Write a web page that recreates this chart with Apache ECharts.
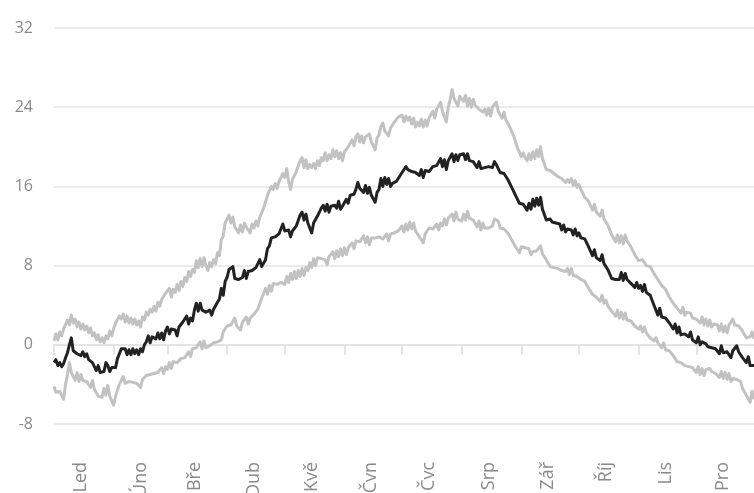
<!DOCTYPE html>
<html>
<head>
<meta charset="utf-8">
<script src="https://cdn.jsdelivr.net/npm/echarts@6/dist/echarts.min.js"></script>
<style>
  html, body { margin: 0; padding: 0; background: #ffffff; }
  #chart { width: 754px; height: 493px; }
</style>
</head>
<body>
<div id="chart"></div>
<script>
// Month names (Czech abbreviations) and their lengths
const monthNames = ['Led', 'Úno', 'Bře', 'Dub', 'Kvě', 'Čvn', 'Čvc', 'Srp', 'Zář', 'Říj', 'Lis', 'Pro'];
const monthDays = [31, 28, 31, 30, 31, 30, 31, 31, 30, 31, 30, 31];

// Y-axis range and step (°C)
const yTicks = [-8, 0, 8, 16, 24, 32];

// Daily maximum temperature, Jan 1 .. Dec 31 (one row per month)
const tMax = [
  0.4, 1.1, 0.5, 1.3, 0.9, 1.6, 1.4, 2.5, 2.0, 3.0, 2.2, 2.6, 1.8, 2.3, 1.6, 2.1, 1.5, 1.9, 1.2, 1.7, 0.9, 1.2, 0.5, 1.0, 0.3, 0.7, 0.2, 0.9, 0.6, 1.4, 0.9,
  1.6, 2.2, 2.0, 2.9, 2.6, 3.1, 2.3, 2.9, 2.2, 2.7, 2.1, 2.6, 2.0, 2.4, 1.8, 2.8, 2.5, 3.3, 3.0, 3.6, 3.3, 3.9, 3.4, 4.3, 3.9, 4.6, 4.4, 5.2,
  5.0, 5.7, 4.8, 5.6, 5.3, 6.1, 5.5, 6.4, 5.9, 6.8, 6.4, 7.4, 6.9, 7.6, 7.3, 8.5, 7.8, 8.7, 7.9, 8.8, 8.0, 7.5, 8.3, 7.9, 8.6, 8.2, 9.3, 9.0, 10.6, 11.0, 12.3,
  12.2, 13.1, 12.3, 12.9, 11.9, 12.0, 11.3, 12.1, 11.4, 12.3, 11.9, 12.0, 11.3, 12.2, 11.8, 12.5, 12.0, 12.9, 12.7, 13.8, 13.9, 15.1, 15.0, 16.0, 15.7, 16.3, 15.8, 16.5, 16.3, 17.3,
  16.9, 17.8, 16.5, 15.7, 16.7, 16.6, 17.5, 17.5, 18.6, 18.9, 17.9, 18.7, 17.8, 18.2, 17.9, 18.3, 17.8, 18.6, 18.1, 18.9, 18.6, 19.4, 18.6, 19.2, 18.8, 19.7, 19.0, 19.6, 18.8, 19.4, 18.6,
  19.5, 19.4, 20.0, 19.9, 20.7, 20.1, 21.0, 21.3, 20.5, 21.1, 20.4, 21.0, 20.8, 21.3, 20.5, 20.6, 19.7, 20.9, 21.2, 22.1, 22.4, 21.6, 21.8, 21.1, 21.9, 21.7, 22.5, 22.3, 23.0, 22.9,
  23.2, 22.5, 23.1, 22.7, 23.0, 22.3, 22.9, 22.0, 22.5, 22.1, 22.8, 22.0, 22.7, 22.1, 22.9, 22.8, 23.6, 22.9, 23.8, 23.7, 24.5, 23.6, 23.4, 22.5, 24.0, 24.8, 25.8, 24.9, 24.9, 24.1, 25.1,
  25.3, 24.6, 25.2, 24.1, 24.9, 24.0, 24.8, 24.2, 24.1, 23.8, 23.9, 23.5, 23.8, 23.2, 23.9, 23.1, 24.0, 23.8, 24.5, 23.6, 23.7, 22.9, 23.5, 22.7, 22.8, 22.0, 22.0, 21.1, 20.9, 19.9, 19.8,
  19.0, 19.4, 18.9, 18.6, 19.3, 18.7, 19.5, 18.8, 19.7, 19.0, 20.0, 18.8, 18.6, 17.7, 17.8, 17.6, 17.6, 17.3, 17.5, 17.0, 17.2, 16.8, 17.0, 16.4, 16.7, 16.4, 16.8, 16.1, 16.6, 15.9,
  16.2, 15.7, 15.8, 14.9, 14.7, 14.5, 14.4, 13.6, 14.2, 13.4, 13.6, 13.0, 13.6, 12.7, 12.8, 12.1, 12.0, 11.1, 11.0, 10.4, 11.1, 10.3, 11.0, 10.2, 11.1, 10.5, 10.5, 9.9, 10.0, 9.1, 9.1,
  8.5, 8.7, 8.6, 8.6, 8.0, 8.1, 7.9, 8.0, 7.2, 7.3, 6.6, 6.7, 6.0, 6.2, 5.6, 5.6, 4.8, 5.0, 4.2, 4.3, 3.7, 3.8, 3.2, 3.8, 3.0, 3.3, 3.2, 3.2, 2.7, 2.8,
  2.6, 2.7, 2.2, 2.8, 2.0, 2.6, 1.9, 2.5, 1.8, 2.1, 1.9, 2.0, 1.4, 2.1, 1.3, 1.9, 1.2, 2.0, 1.9, 2.6, 2.0, 2.1, 1.9, 2.0, 1.4, 1.4, 0.7, 0.9, 0.8, 1.3, 0.6
];

// Daily mean temperature
const tMean = [
  -1.8, -1.5, -2.1, -1.8, -2.2, -1.9, -1.3, -0.8, 0.0, 0.7, -0.6, -0.6, -0.9, -0.8, -1.1, -0.7, -1.2, -0.9, -1.5, -1.3, -1.8, -1.9, -2.6, -2.1, -2.8, -2.6, -2.7, -1.8, -2.1, -2.7, -2.3,
  -2.1, -2.3, -1.4, -1.2, -0.4, -0.5, -0.4, -1.0, -0.5, -1.0, -0.4, -0.9, -0.5, -1.0, -0.4, -0.7, 0.0, 0.3, 0.9, 0.2, 0.8, 0.7, 0.6, 1.2, 0.6, 1.2, 0.5, 1.4,
  1.8, 1.1, 1.6, 1.4, 1.5, 0.9, 1.8, 1.7, 2.3, 2.2, 2.9, 2.1, 2.7, 2.4, 3.5, 4.2, 3.4, 4.2, 3.5, 3.4, 3.3, 3.3, 3.5, 3.0, 3.6, 3.6, 4.3, 4.6, 5.7, 5.0, 6.4,
  6.8, 7.6, 7.7, 7.9, 6.7, 6.7, 6.6, 6.8, 6.8, 7.5, 6.7, 7.4, 7.3, 7.5, 7.6, 7.8, 7.8, 8.6, 7.9, 8.0, 8.6, 9.7, 10.0, 10.8, 10.8, 10.9, 11.0, 11.2, 11.3, 12.2,
  11.5, 11.6, 11.6, 10.9, 11.5, 11.4, 12.0, 12.1, 13.1, 13.4, 12.6, 13.2, 12.3, 12.2, 11.3, 12.3, 12.2, 13.0, 12.9, 13.8, 14.1, 13.5, 14.2, 13.4, 14.0, 13.9, 14.1, 13.8, 14.5, 13.7, 14.0,
  14.2, 14.7, 14.3, 15.1, 15.3, 15.2, 15.7, 16.4, 15.8, 15.9, 15.4, 16.1, 15.3, 15.9, 15.1, 15.2, 14.4, 15.4, 15.7, 16.8, 16.0, 16.9, 16.2, 16.8, 16.0, 16.3, 16.4, 16.5, 16.5, 17.1,
  17.4, 17.3, 18.0, 17.7, 17.8, 17.5, 17.6, 17.4, 17.4, 17.1, 17.7, 16.9, 17.6, 17.4, 17.5, 17.5, 18.0, 17.9, 18.1, 18.1, 18.8, 18.0, 18.7, 17.7, 18.6, 18.6, 19.3, 18.5, 19.2, 18.6, 19.2,
  19.0, 19.3, 18.7, 19.3, 18.6, 18.7, 18.5, 18.5, 17.9, 18.5, 17.8, 18.0, 17.9, 18.1, 18.0, 18.1, 17.9, 18.5, 18.2, 18.2, 17.4, 17.5, 17.3, 17.4, 16.7, 16.7, 15.9, 15.8, 15.1, 15.1, 14.3,
  14.4, 14.2, 14.2, 13.6, 14.3, 13.7, 14.7, 14.0, 14.8, 14.1, 14.9, 13.7, 13.5, 12.6, 12.8, 12.7, 12.4, 12.2, 12.3, 12.1, 12.2, 11.6, 12.1, 11.4, 11.7, 11.5, 11.6, 11.1, 11.7, 11.0,
  11.3, 10.8, 11.0, 10.7, 10.7, 9.9, 9.9, 9.0, 9.6, 8.8, 9.0, 8.5, 9.1, 8.2, 8.3, 7.6, 7.6, 6.7, 6.7, 6.6, 6.8, 6.6, 7.3, 6.5, 7.2, 6.6, 6.7, 6.2, 6.4, 5.8, 6.3,
  5.7, 6.0, 5.4, 6.1, 5.3, 5.3, 5.0, 5.0, 4.0, 3.8, 3.0, 3.7, 2.8, 2.9, 2.7, 2.7, 2.2, 2.3, 1.6, 2.1, 1.2, 1.8, 1.0, 1.1, 1.1, 1.0, 0.8, 1.3, 0.5, 0.7,
  0.2, 0.8, 0.0, 0.3, 0.1, 0.1, -0.2, -0.1, -0.3, -0.3, -0.4, -0.2, -0.9, -0.1, -0.8, -0.6, -0.7, -0.7, -1.3, -0.6, -0.8, -0.1, -0.7, -0.6, -1.3, -1.1, -1.8, -1.2, -2.1, -2.3, -2.1
];

// Daily minimum temperature
const tMin = [
  -4.2, -4.8, -4.6, -4.7, -4.8, -5.5, -4.0, -3.0, -1.8, -2.8, -2.9, -3.6, -2.8, -3.7, -3.0, -3.6, -3.5, -3.7, -3.7, -4.3, -3.6, -4.5, -4.4, -5.2, -5.3, -5.3, -4.4, -5.1, -4.1, -5.2, -5.4,
  -6.1, -5.2, -5.0, -4.0, -3.9, -3.2, -3.9, -3.7, -3.7, -3.6, -3.8, -3.7, -3.9, -4.0, -4.3, -3.5, -3.7, -3.1, -3.2, -3.0, -3.0, -2.9, -2.9, -2.8, -3.0, -2.3, -2.9, -2.2,
  -2.5, -1.8, -2.4, -1.7, -1.9, -1.8, -2.0, -1.4, -1.5, -1.3, -1.3, -0.7, -1.2, -0.4, -0.5, -0.3, -0.3, 0.3, -0.4, 0.4, -0.3, -0.1, -0.1, 0.1, 0.2, 0.3, 0.3, 0.4, 0.5, 1.3, 1.2,
  1.9, 1.8, 2.0, 2.0, 2.7, 1.9, 2.1, 1.5, 2.3, 2.2, 2.8, 2.1, 2.7, 2.5, 3.1, 3.0, 3.6, 3.7, 4.7, 4.8, 5.7, 5.1, 6.0, 5.4, 6.2, 6.0, 6.1, 6.1, 6.3, 6.3,
  6.1, 6.9, 6.3, 7.2, 6.6, 7.4, 6.7, 7.5, 6.9, 7.7, 7.0, 7.8, 7.5, 8.3, 7.8, 8.7, 8.0, 8.8, 8.6, 8.7, 8.5, 8.6, 8.1, 8.9, 8.7, 9.4, 8.7, 9.5, 8.9, 9.7, 9.0,
  9.8, 9.1, 9.8, 9.6, 10.3, 9.7, 10.5, 10.3, 10.4, 10.4, 11.0, 10.3, 10.9, 10.1, 10.8, 10.6, 10.8, 10.8, 10.9, 10.7, 10.7, 10.6, 11.2, 10.5, 11.2, 11.1, 11.3, 11.3, 11.5, 11.4,
  12.0, 11.4, 12.2, 11.6, 12.4, 11.7, 12.3, 11.5, 11.7, 10.9, 10.9, 10.3, 11.2, 11.2, 11.8, 11.6, 11.7, 11.7, 12.2, 11.6, 12.3, 12.0, 12.7, 12.1, 12.8, 12.6, 13.2, 12.5, 13.4, 12.7, 12.8,
  12.5, 13.2, 12.6, 13.5, 12.8, 12.8, 12.6, 12.6, 11.9, 12.5, 11.6, 12.3, 11.8, 11.9, 11.8, 12.0, 12.0, 12.7, 12.5, 12.5, 11.8, 12.0, 11.7, 11.8, 11.3, 11.4, 10.6, 10.7, 9.9, 10.0, 9.3,
  9.9, 9.7, 9.8, 9.6, 9.7, 9.1, 9.4, 9.3, 9.5, 9.5, 10.0, 9.2, 9.3, 8.6, 8.7, 7.9, 8.0, 7.8, 7.9, 7.7, 7.7, 7.5, 7.6, 7.4, 7.7, 7.1, 7.7, 7.0, 7.2, 6.9,
  7.1, 6.6, 6.7, 6.4, 6.4, 5.7, 5.8, 5.1, 5.3, 4.8, 4.9, 4.4, 5.0, 4.2, 4.5, 3.9, 4.0, 3.4, 3.6, 2.9, 3.5, 2.7, 3.3, 2.6, 3.2, 2.5, 2.7, 2.4, 2.6, 1.9, 2.1,
  1.6, 1.9, 1.3, 1.8, 1.2, 1.3, 0.7, 0.9, 0.4, 0.7, 0.2, 0.3, -0.3, 0.2, -0.5, -0.3, -0.6, -0.5, -1.1, -1.0, -1.7, -1.6, -1.8, -1.8, -2.1, -2.1, -2.2, -2.0, -2.3, -2.3,
  -2.8, -2.2, -3.0, -2.4, -3.1, -2.5, -2.6, -2.4, -2.7, -2.7, -2.9, -2.8, -3.3, -2.7, -3.4, -2.8, -3.5, -2.9, -3.7, -3.4, -3.6, -3.5, -3.7, -3.7, -4.4, -4.3, -5.1, -5.0, -5.8, -4.7, -5.5
];

// One category per day; remember where each month starts and its 15th day
const days = [];
const monthStart = new Set();
const monthMid = new Map();
monthDays.forEach((n, m) => {
  monthStart.add(days.length);
  monthMid.set(days.length + 14, monthNames[m]);
  for (let d = 1; d <= n; d++) days.push(d + '. ' + monthNames[m]);
});

const chart = echarts.init(document.getElementById('chart'), null, { renderer: 'canvas' });

const lineSeries = (name, data, color) => ({
  name,
  type: 'line',
  data,
  showSymbol: false,
  symbol: 'none',
  smooth: false,
  lineStyle: { color, width: 3, join: 'round' },
  emphasis: { disabled: true }
});

chart.setOption({
  animation: false,
  backgroundColor: '#ffffff',
  // fixed plot rectangle; month labels are allowed to run past the bottom edge
  grid: { left: 54, right: 0, top: 28, bottom: 69, containLabel: false, outerBoundsMode: 'none' },
  xAxis: {
    type: 'category',
    data: days,
    boundaryGap: false,
    axisLine: { show: true, lineStyle: { color: '#e4e4e4', width: 2 } },
    axisTick: {
      show: true,
      length: 10,
      interval: (i) => monthStart.has(i),
      lineStyle: { color: '#e4e4e4', width: 2 }
    },
    axisLabel: {
      interval: (i) => monthMid.has(i),
      formatter: (v, i) => monthMid.get(i) || '',
      rotate: 90,
      margin: 38,
      color: '#8a8a8a',
      fontSize: 18,
      fontFamily: 'Open Sans'
    },
    splitLine: { show: false }
  },
  yAxis: {
    type: 'value',
    min: yTicks[0],
    max: yTicks[yTicks.length - 1],
    interval: yTicks[1] - yTicks[0],
    axisLine: { show: false },
    axisTick: { show: false },
    axisLabel: {
      margin: 21,
      color: '#8a8a8a',
      fontSize: 16,
      fontFamily: 'Open Sans'
    },
    splitLine: { show: true, lineStyle: { color: '#ebebeb', width: 2 } }
  },
  series: [
    lineSeries('Maximum', tMax, '#c2c2c2'),
    lineSeries('Minimum', tMin, '#c2c2c2'),
    lineSeries('Průměr', tMean, '#222222')
  ]
});
</script>
</body>
</html>
